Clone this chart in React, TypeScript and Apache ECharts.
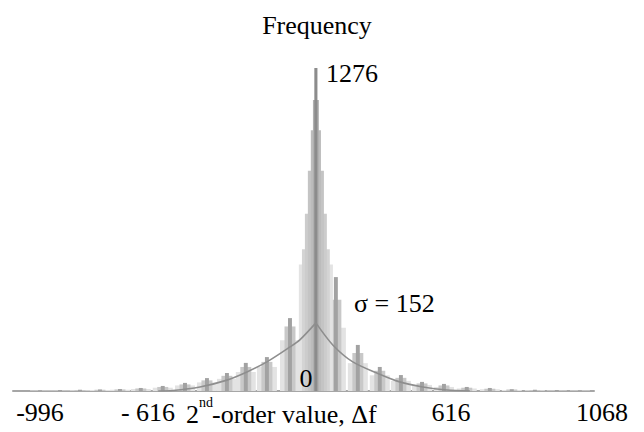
import React, { useEffect, useRef } from "react";
import * as echarts from "echarts";

// x in data units (0 = centre of distribution), y = frequency counts
const PEAK = 1276;

// Central cluster: nested bands (width in x-units, height in counts)
const centreWidths = [121, 99, 78, 57, 36, 21, 11];
const centreHeights = [500, 560, 700, 870, 1030, 1150, 1276];

// Side clusters (left of 0, going outward)
const leftPos = [-92, -174, -249, -316, -387, -465, -544, -622, -696, -767, -838, -909, -980];
const leftDark = [288, 134, 111, 71, 51, 32, 20, 12, 8, 6, 5, 4, 3];
const leftLight = [255, 115, 95, 60, 42, 26, 16, 10, 6, 5, 4, 3, 2];
const leftFaint = [200, 95, 75, 48, 34, 22, 13, 8, 5, 4, 3, 2, 2];

// Side clusters (right of 0, going outward)
const rightPos = [71, 149, 227, 302, 377, 455, 536, 618, 696, 778, 856, 938];
const rightDark = [450, 182, 95, 63, 36, 28, 16, 12, 7, 5, 4, 3];
const rightLight = [360, 150, 80, 52, 30, 22, 13, 9, 6, 4, 3, 2];
const rightFaint = [250, 110, 62, 40, 24, 16, 10, 7, 4, 3, 2, 2];

// fitted distribution curve (sigma = 152)
const curveLeftX = [-560, -508, -412, -316, -245, -174, -92, -57, 0];
const curveLeftY = [0, 2, 16, 43, 75, 115, 174, 202, 269];
const curveRightX = [0, 60, 131, 217, 298, 380, 465, 547];
const curveRightY = [269, 182, 115, 71, 36, 16, 4, 0];

const tickLabels = ["-996", "- 616", "616", "1068"];
const sigmaLabel = "σ = 152";

const W_FAINT = 71;
const W_LIGHT = 39;
const W_DARK = 14;

const COL_FAINT = "#e3e3e3";
const COL_LIGHT = "#c8c8c8";
const COL_DARK = "#a2a2a2";
const COL_CENTRE = ["#e3e3e3", "#d4d4d4", "#cccccc", "#c4c4c4", "#bcbcbc", "#b0b0b0", "#8c8c8c"];

function rectSeries(name: string, data: number[][], colorFn: (i: number) => string, z: number) {
  return {
    type: "custom",
    name,
    z,
    clip: false,
    encode: { x: 0, y: 1 },
    data,
    renderItem: (params: any, api: any) => {
      const x = api.value(0);
      const h = api.value(1);
      const w = api.value(2);
      const p1 = api.coord([x - w / 2, h]);
      const p2 = api.coord([x + w / 2, 0]);
      return {
        type: "rect",
        shape: { x: p1[0], y: p1[1], width: p2[0] - p1[0], height: p2[1] - p1[1] },
        style: { fill: colorFn(params.dataIndex) },
      };
    },
  };
}

export default function App() {
  const ref = useRef<HTMLDivElement>(null);
  useEffect(() => {
    if (!ref.current) return;
    const chart = echarts.init(ref.current, undefined, { renderer: "svg" });

    const sideData = (pos: number[], hs: number[], w: number) => pos.map((p, i) => [p, hs[i], w]);
    const faint = [...sideData(leftPos, leftFaint, W_FAINT), ...sideData(rightPos, rightFaint, W_FAINT)];
    const light = [...sideData(leftPos, leftLight, W_LIGHT), ...sideData(rightPos, rightLight, W_LIGHT)];
    const dark = [...sideData(leftPos, leftDark, W_DARK), ...sideData(rightPos, rightDark, W_DARK)];
    const centre = centreWidths.map((w, i) => [0, centreHeights[i], w]);

    const font = "'Liberation Serif', 'Times New Roman', serif";
    const txt = (text: string, x: number, y: number, size: number, align = "left") => ({
      type: "text",
      x,
      y,
      z: 100,
      style: {
        text,
        font: `${size}px ${font}`,
        fontSize: size,
        fontFamily: font,
        fill: "#000",
        textAlign: align,
        align,
        verticalAlign: "middle",
        textVerticalAlign: "middle",
      },
    });

    chart.setOption({
      animation: false,
      backgroundColor: "#fff",
      grid: { left: 13, right: 50, top: 68, bottom: 41 },
      xAxis: {
        type: "value",
        min: -1076,
        max: 988,
        axisLine: { show: true, lineStyle: { color: "#a6a6a6", width: 2 } },
        axisTick: { show: false },
        axisLabel: { show: false },
        splitLine: { show: false },
      },
      yAxis: {
        type: "value",
        min: 0,
        max: PEAK,
        show: false,
        splitLine: { show: false },
      },
      series: [
        rectSeries("faint", faint, () => COL_FAINT, 2),
        rectSeries("light", light, () => COL_LIGHT, 3),
        rectSeries("dark", dark, () => COL_DARK, 4),
        rectSeries("centre", centre, (i) => COL_CENTRE[i], 5),
        {
          type: "line",
          z: 6,
          data: curveLeftX.map((x, i) => [x, curveLeftY[i]]),
          smooth: 0.3,
          showSymbol: false,
          lineStyle: { color: "#8e8e8e", width: 1.6 },
        },
        {
          type: "line",
          z: 6,
          data: curveRightX.map((x, i) => [x, curveRightY[i]]),
          smooth: 0.3,
          showSymbol: false,
          lineStyle: { color: "#8e8e8e", width: 1.6 },
        },
      ],
      graphic: [
        txt("Frequency", 317, 25, 26, "center"),
        txt(String(PEAK), 326, 73, 26),
        txt(sigmaLabel, 354, 303, 26),
        txt("0", 306, 378, 26, "center"),
        txt(tickLabels[0], 40, 412, 26, "center"),
        txt(tickLabels[1], 148, 412, 26, "center"),
        txt(tickLabels[2], 451, 412, 26, "center"),
        txt(tickLabels[3], 602, 412, 26, "center"),
        txt("2", 186, 414, 26),
        txt("nd", 199, 402, 14),
        txt("-order value, Δf", 212, 414, 26),
      ],
    });
    return () => chart.dispose();
  }, []);
  return <div ref={ref} style={{ position: "fixed", left: 0, top: 0, width: 644, height: 432 }} />;
}
